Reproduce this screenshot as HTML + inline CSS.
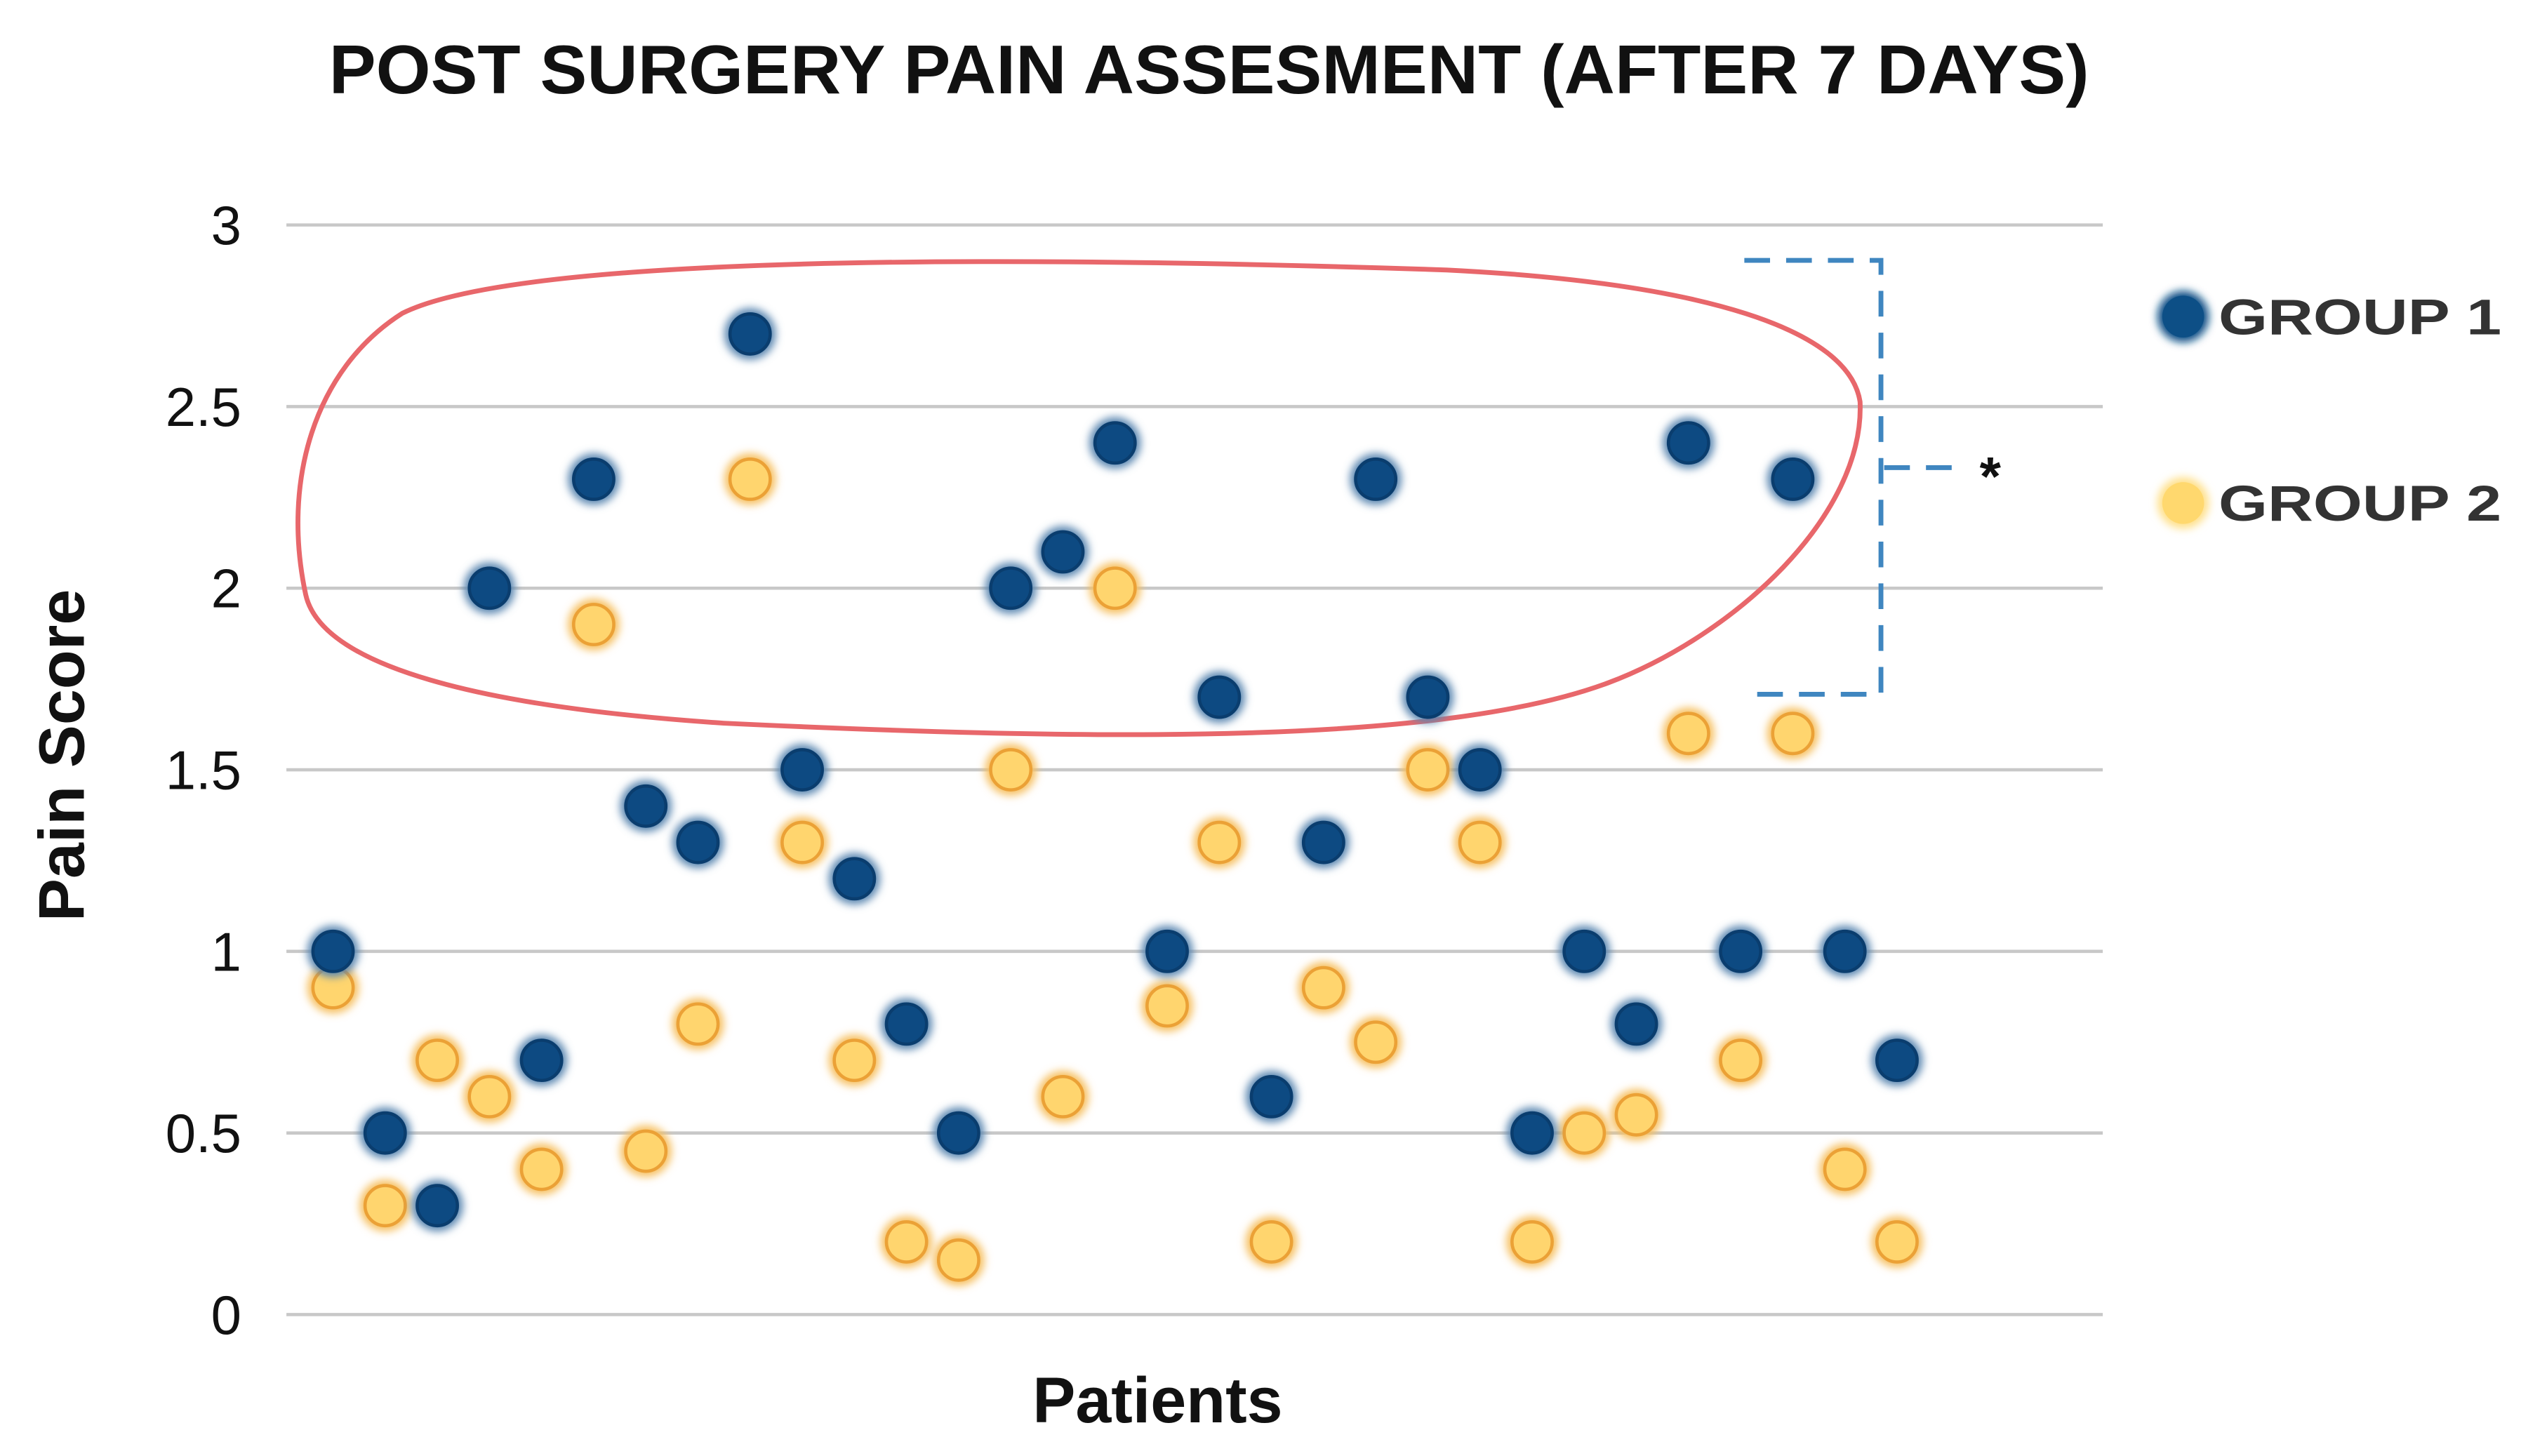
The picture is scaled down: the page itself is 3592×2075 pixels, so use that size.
<!DOCTYPE html>
<html><head><meta charset="utf-8"><style>
html,body{margin:0;padding:0;background:#fff;}
svg{display:block;font-family:"Liberation Sans",sans-serif;}
</style></head><body>
<svg width="3592" height="2075" viewBox="0 0 1568 906" xmlns="http://www.w3.org/2000/svg">
<defs>
<filter id="glow" x="-50%" y="-50%" width="200%" height="200%"><feGaussianBlur stdDeviation="2.5"/></filter>
</defs>
<text x="752" y="58" text-anchor="middle" font-size="43" font-weight="bold" fill="#111" textLength="1095" lengthAdjust="spacingAndGlyphs">POST SURGERY PAIN ASSESMENT (AFTER 7 DAYS)</text>
<g id="grid"></g>
<g id="ylabels"></g>
<text transform="translate(52,470) rotate(-90)" text-anchor="middle" font-size="40" font-weight="bold" fill="#111">Pain Score</text>
<text x="720" y="885" text-anchor="middle" font-size="40" font-weight="bold" fill="#111">Patients</text>
<path d="M190,370 C175,300 195,230 250,195 C320,160 600,158 900,168 C1060,176 1150,205 1157,250 C1160,320 1080,395 1000,425 C900,462 700,462 450,450 C300,440 200,415 190,370 Z" fill="none" stroke="#e8676b" stroke-width="3"/>
<g fill="none" stroke="#3f86c0" stroke-width="3" stroke-dasharray="16,10">
<path d="M1085,162 H1170 V432 H1090"/>
<path d="M1172,291 H1222"/>
</g>
<text x="1238" y="308" text-anchor="middle" font-size="34" font-weight="bold" fill="#111">*</text>
<g id="points"></g>
<g>
<circle cx="1358" cy="197" r="16" fill="#0d4f86" filter="url(#glow)"/>
<circle cx="1358" cy="197" r="13" fill="#0d4f86"/>
<text x="1380" y="208" font-size="31" font-weight="bold" fill="#333" textLength="176" lengthAdjust="spacingAndGlyphs">GROUP 1</text>
<circle cx="1358" cy="313" r="16" fill="#ffe08a" filter="url(#glow)"/>
<circle cx="1358" cy="313" r="13" fill="#ffd86e"/>
<text x="1380" y="324" font-size="31" font-weight="bold" fill="#333" textLength="176" lengthAdjust="spacingAndGlyphs">GROUP 2</text>
</g>
</svg>
<script>
const yTicks = [0, 0.5, 1, 1.5, 2, 2.5, 3];
const yTickLabels = ["0", "0.5", "1", "1.5", "2", "2.5", "3"];
const group1 = [1.0,0.5,0.3,2.0,0.7,2.3,1.4,1.3,2.7,1.5,1.2,0.8,0.5,2.0,2.1,2.4,1.0,1.7,0.6,1.3,2.3,1.7,1.5,0.5,1.0,0.8,2.4,1.0,2.3,1.0,0.7];
const group2 = [0.9,0.3,0.7,0.6,0.4,1.9,0.45,0.8,2.3,1.3,0.7,0.2,0.15,1.5,0.6,2.0,0.85,1.3,0.2,0.9,0.75,1.5,1.3,0.2,0.5,0.55,1.6,0.7,1.6,0.4,0.2];
const NS = "http://www.w3.org/2000/svg";
function yScale(v){ return 818 - v * 226; }
function xScale(i){ return 207 + i * (1180 - 207) / (group1.length - 1); }
const grid = document.getElementById('grid');
const yl = document.getElementById('ylabels');
yTicks.forEach((t, k) => {
  const l = document.createElementNS(NS, 'line');
  
  
  l.setAttribute('x1', 178); l.setAttribute('x2', 1308);
  l.setAttribute('y1', yScale(t)); l.setAttribute('y2', yScale(t));
  l.setAttribute('stroke', '#c8c8c8'); l.setAttribute('stroke-width', 2);
  grid.appendChild(l);
  const tx = document.createElementNS(NS, 'text');
  
  
  tx.setAttribute('x', 150); tx.setAttribute('y', yScale(t) + 12);
  tx.setAttribute('text-anchor', 'end'); tx.setAttribute('font-size', 34); tx.setAttribute('fill', '#111');
  tx.textContent = yTickLabels[k];
  yl.appendChild(tx);
});
const pts = document.getElementById('points');
function dot(i, v, g){
  const cx = xScale(i), cy = yScale(v);
  const halo = document.createElementNS(NS, 'circle');
  halo.setAttribute('cx', cx); halo.setAttribute('cy', cy); halo.setAttribute('r', 16);
  halo.setAttribute('fill', g === 1 ? '#5a86b0' : '#f6c060'); halo.setAttribute('filter', 'url(#glow)');
  pts.appendChild(halo);
  const c = document.createElementNS(NS, 'circle');
  
  
  c.setAttribute('cx', cx); c.setAttribute('cy', cy); c.setAttribute('r', 12.5);
  c.setAttribute('fill', g === 1 ? '#0d4a82' : '#ffd56e');
  c.setAttribute('stroke', g === 1 ? '#0a3d6e' : '#eba136'); c.setAttribute('stroke-width', 2);
  pts.appendChild(c);
}
group2.forEach((v, i) => dot(i, v, 2));
group1.forEach((v, i) => dot(i, v, 1));
</script>
</body></html>
